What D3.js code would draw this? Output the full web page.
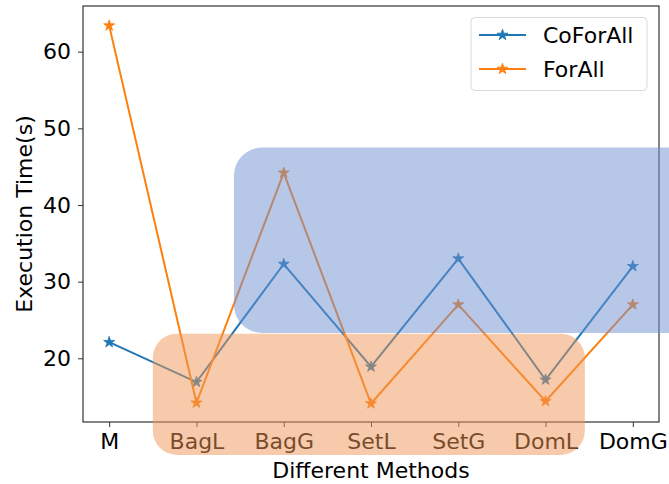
<!DOCTYPE html>
<html><head><meta charset="utf-8">
<script src="https://cdn.jsdelivr.net/npm/d3@7"></script>
<style>body{margin:0;background:#fff}svg{display:block}text{font-family:"DejaVu Sans",sans-serif}</style>
</head><body><svg id="c" width="669" height="484"></svg>
<script>
const categories = ["M","BagL","BagG","SetL","SetG","DomL","DomG"];
const coForAll = [22.1, 16.9, 32.3, 18.9, 33.0, 17.2, 32.0];
const forAll   = [63.4, 14.2, 44.2, 14.1, 27.0, 14.4, 27.0];
const seriesNames = ["CoForAll","ForAll"];
const yTicks = [20,30,40,50,60];
// highlight boxes in data coords [x0,x1,y0,y1]
const blueBox = [1.43, 7.0, 23.3, 47.5];
const orangeBox = [0.50, 5.45, 7.4, 23.2];

const svg = d3.select("#c");
const L=83,R=659,T=6,B=422;
const FS=22;
const x = d3.scaleLinear().domain([-0.3,6.3]).range([L,R]);
const y = d3.scaleLinear().domain([11.69,65.96]).range([B,T]);
const colors = ["#1f77b4","#ff7f0e"];

const g = svg.append("g");
// axes
const xa = g.append("g").attr("transform",`translate(0,${B})`)
  .call(d3.axisBottom(x).tickValues(d3.range(categories.length)).tickFormat(i=>categories[i]).tickSize(5).tickPadding(6));
const ya = g.append("g").attr("transform",`translate(${L},0)`)
  .call(d3.axisLeft(y).tickValues(yTicks).tickSize(5).tickPadding(7));
[xa,ya].forEach(a=>{a.select(".domain").remove();a.selectAll("text").attr("font-size",FS).attr("fill","#000").style("font-family","DejaVu Sans");a.selectAll("line").attr("stroke","#333").attr("stroke-width",1);});
g.append("rect").attr("x",L).attr("y",T).attr("width",R-L).attr("height",B-T).attr("fill","none").attr("stroke","#333").attr("stroke-width",1.2);

g.append("text").attr("x",(L+R)/2).attr("y",478).attr("text-anchor","middle").attr("font-size",FS).text("Different Methods");
g.append("text").attr("transform",`translate(32,${(T+B)/2}) rotate(-90)`).attr("text-anchor","middle").attr("font-size",FS).text("Execution Time(s)");

const star = d3.symbol().type(d3.symbolStar).size(38);
[coForAll, forAll].forEach((s,k)=>{
  g.append("path").datum(s).attr("fill","none").attr("stroke",colors[k]).attr("stroke-width",2)
    .attr("d",d3.line().x((d,i)=>x(i)).y(d=>y(d)));
  g.selectAll(null).data(s).enter().append("path").attr("d",star)
    .attr("transform",(d,i)=>`translate(${x(i)},${y(d)})`).attr("fill",colors[k]).attr("stroke",colors[k]).attr("stroke-width",0.8);
});

// legend
const lg = g.append("g");
lg.append("rect").attr("x",471).attr("y",17.5).attr("width",176).attr("height",73).attr("rx",4)
  .attr("fill","#fff").attr("fill-opacity",0.8).attr("stroke","#d9d9d9");
seriesNames.forEach((n,k)=>{
  const yy = 35+k*34;
  lg.append("line").attr("x1",479).attr("x2",526).attr("y1",yy).attr("y2",yy).attr("stroke",colors[k]).attr("stroke-width",2);
  lg.append("path").attr("d",star).attr("transform",`translate(502.5,${yy})`).attr("fill",colors[k]).attr("stroke",colors[k]).attr("stroke-width",0.8);
  lg.append("text").attr("x",543).attr("y",yy+8).attr("font-size",FS).text(n);
});

// highlight boxes on top
function box(b,col,r){
  svg.append("rect").attr("x",x(b[0])).attr("y",y(b[3])).attr("width",x(b[1])-x(b[0])).attr("height",y(b[2])-y(b[3]))
    .attr("rx",r).attr("fill",col).attr("fill-opacity",0.5);
}
box(blueBox,"#6f8fd1",28);
box(orangeBox,"#ee9555",24);
</script></body></html>
